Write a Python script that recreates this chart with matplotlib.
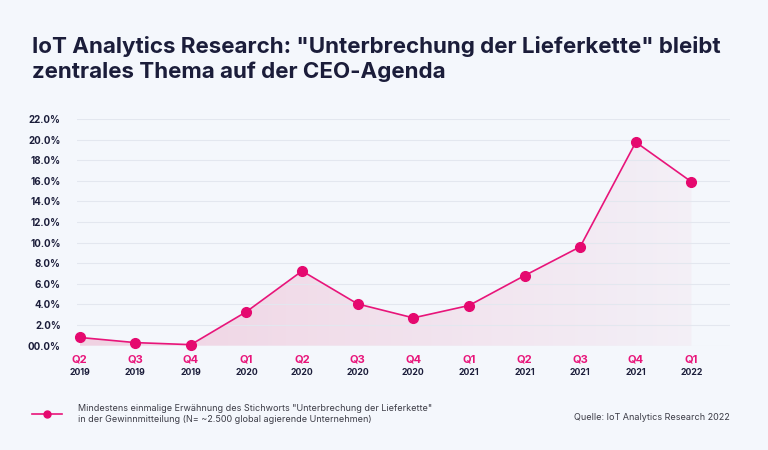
import numpy as np
import matplotlib
matplotlib.use('Agg')
import matplotlib.pyplot as plt
from matplotlib.lines import Line2D

plt.rcParams['font.family'] = ['Inter', 'DejaVu Sans']

# Werte
quarters = ['Q2', 'Q3', 'Q4', 'Q1', 'Q2', 'Q3', 'Q4', 'Q1', 'Q2', 'Q3', 'Q4', 'Q1']
years = ['2019', '2019', '2019', '2020', '2020', '2020', '2020', '2021', '2021', '2021', '2021', '2022']
share = [0.8, 0.3, 0.1, 3.3, 7.25, 4.05, 2.7, 3.9, 6.8, 9.6, 19.75, 15.9]
yticks = [0, 2, 4, 6, 8, 10, 12, 14, 16, 18, 20, 22]
ytick_labels = ['00.0%'] + [f'{v:.1f}%' for v in yticks[1:]]

title = 'IoT Analytics Research: "Unterbrechung der Lieferkette" bleibt\nzentrales Thema auf der CEO-Agenda'
legend_text = ('Mindestens einmalige Erwähnung des Stichworts "Unterbrechung der Lieferkette"\n'
               'in der Gewinnmitteilung (N= ~2.500 global agierende Unternehmen)')
source = 'Quelle: IoT Analytics Research 2022'

bg = '#f4f7fc'
pink = '#e8157a'
navy = '#1b1d3a'

fig = plt.figure(figsize=(7.68, 4.5), dpi=100, facecolor=bg)
ax = fig.add_axes([0.100, 0.2318, 0.851, 0.5038])
ax.set_facecolor(bg)

x = np.arange(len(share))
ax.set_xlim(-0.05, 11.7)
ax.set_ylim(0, 22)

# Verlaufsfüllung unter der Linie
poly = ax.fill_between(x, share, 0, color='none', lw=0)
grad = np.linspace(1.0, 0.2, 256).reshape(1, -1)
cmap = matplotlib.colors.LinearSegmentedColormap.from_list(
    'g', [(0, bg), (1, '#f0d2e2')])
img = ax.imshow(grad, cmap=cmap, vmin=0, vmax=1, aspect='auto',
                extent=[x[0], x[-1], 0, 22], origin='lower', zorder=1)
img.set_clip_path(poly.get_paths()[0], transform=ax.transData)

ax.plot(x, share, color=pink, lw=1.2, marker='o', ms=7, mfc='#e5096f',
        mec='#e5096f', zorder=3, clip_on=False)

ax.set_yticks(yticks)
ax.set_yticklabels(ytick_labels, fontsize=7, fontweight='bold', color=navy)
ax.grid(axis='y', color='#e3e7ef', lw=0.8, zorder=0)
ax.tick_params(axis='both', length=0)
ax.tick_params(axis='y', pad=11.5)
ax.set_xticks(x)
ax.set_xticklabels([])
for xi, q, yr in zip(x, quarters, years):
    ax.annotate(q, (xi, 0), xytext=(0, -10), textcoords='offset points',
                ha='center', va='center', fontsize=8, fontweight='bold', color=pink,
                annotation_clip=False)
    ax.annotate(yr, (xi, 0), xytext=(0, -19), textcoords='offset points',
                ha='center', va='center', fontsize=6.3, fontweight='bold', color=navy,
                annotation_clip=False)
for s in ax.spines.values():
    s.set_visible(False)

fig.text(32 / 768, 1 - 59 / 450, title, fontsize=16.1, fontweight='bold', color=navy,
         ha='left', va='center', linespacing=1.25)

fig.add_artist(Line2D([32 / 768, 62 / 768], [1 - 414 / 450] * 2, color=pink, lw=1.2,
                      transform=fig.transFigure))
fig.add_artist(Line2D([47 / 768], [1 - 414 / 450], color='#e5096f', marker='o', ms=5,
                      lw=0, transform=fig.transFigure))
fig.text(78 / 768, 1 - 414 / 450, legend_text, fontsize=6.5, color='#3c3c46',
         ha='left', va='center', linespacing=1.4)
fig.text(730 / 768, 1 - 418 / 450, source, fontsize=6.5, color='#3c3c46',
         ha='right', va='center')

fig.savefig('out.png', dpi=100, facecolor=bg)
